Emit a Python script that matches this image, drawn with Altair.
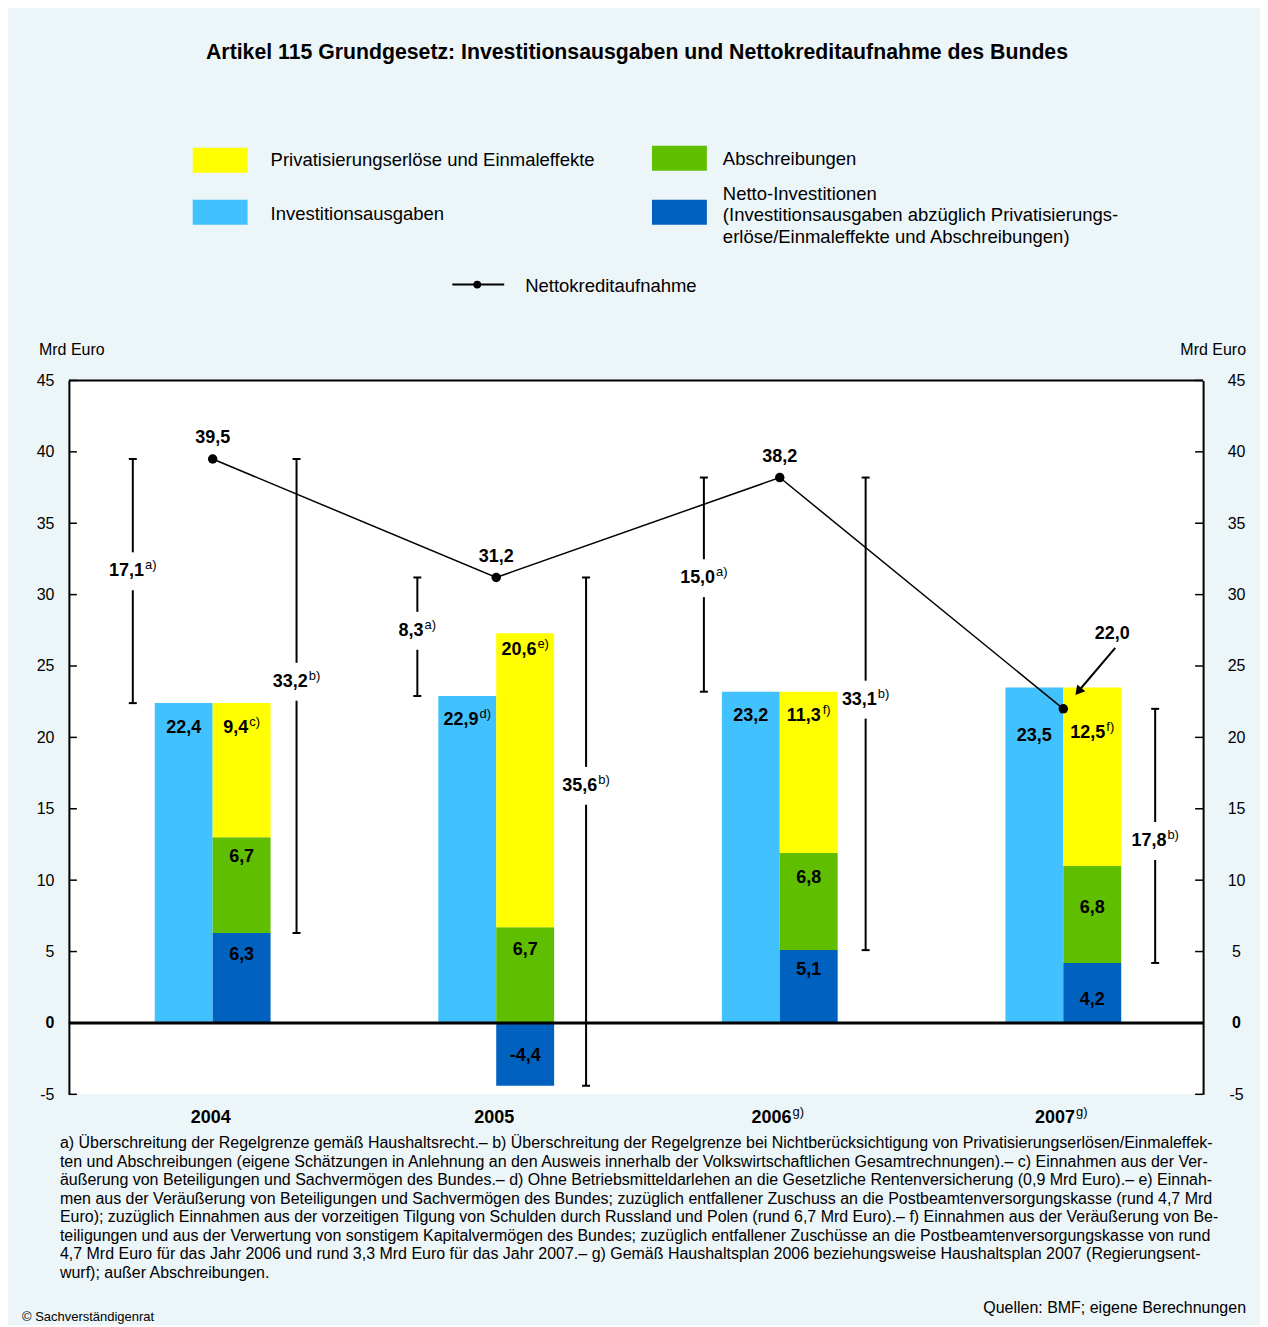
import altair as alt
import pandas as pd

# ---------------- data ----------------
years = ["2004", "2005", "2006", "2007"]
year_notes = ["", "", "g)", "g)"]
investitionsausgaben = [22.4, 22.9, 23.2, 23.5]
investitions_notes = ["", "d)", "", ""]
privatisierung = [9.4, 20.6, 11.3, 12.5]
privatisierung_notes = ["c)", "e)", "f)", "f)"]
abschreibungen = [6.7, 6.7, 6.8, 6.8]
netto_investitionen = [6.3, -4.4, 5.1, 4.2]
nettokredit = [39.5, 31.2, 38.2, 22.0]
ueberschreitung_a = [17.1, 8.3, 15.0, None]
ueberschreitung_b = [33.2, 35.6, 33.1, 17.8]
y_ticks = [-5, 0, 5, 10, 15, 20, 25, 30, 35, 40, 45]

series_names = ["Privatisierungserlöse und Einmaleffekte", "Abschreibungen",
                "Investitionsausgaben", "Netto-Investitionen"]
series_colors = ["#FFFF00", "#5FBE00", "#42C1FF", "#0061BF"]

title_text = "Artikel 115 Grundgesetz: Investitionsausgaben und Nettokreditaufnahme des Bundes"
footnote_lines = [
    "a) Überschreitung der Regelgrenze gemäß Haushaltsrecht.– b) Überschreitung der Regelgrenze bei Nichtberücksichtigung von Privatisierungserlösen/Einmaleffek-",
    "ten und Abschreibungen (eigene Schätzungen in Anlehnung an den Ausweis innerhalb der Volkswirtschaftlichen Gesamtrechnungen).– c) Einnahmen aus der Ver-",
    "äußerung von Beteiligungen und Sachvermögen des Bundes.– d) Ohne Betriebsmitteldarlehen an die Gesetzliche Rentenversicherung (0,9 Mrd Euro).– e) Einnah-",
    "men aus der Veräußerung von Beteiligungen und Sachvermögen des Bundes; zuzüglich entfallener Zuschuss an die Postbeamtenversorgungskasse (rund 4,7 Mrd",
    "Euro); zuzüglich Einnahmen aus der vorzeitigen Tilgung von Schulden durch Russland und Polen (rund 6,7 Mrd Euro).– f) Einnahmen aus der Veräußerung von Be-",
    "teiligungen und aus der Verwertung von sonstigem Kapitalvermögen des Bundes; zuzüglich entfallener Zuschüsse an die Postbeamtenversorgungskasse von rund",
    "4,7 Mrd Euro für das Jahr 2006 und rund 3,3 Mrd Euro für das Jahr 2007.– g) Gemäß Haushaltsplan 2006 beziehungsweise Haushaltsplan 2007 (Regierungsent-",
    "wurf); außer Abschreibungen.",
]

# ---------------- layout ----------------
W, H = 1136, 715
Y0, Y1 = -5, 45
PX = H / (Y1 - Y0)          # pixels per Mrd Euro
STEP = W / len(years)       # pixels per year band
BAR_W = 58 / STEP
SHIFT = 2 / STEP            # bars/line sit slightly right of band centre
FONT = "Liberation Sans"
LBL = 18
SUP = 13
BG = "#ECF5F8"

# label offsets (pixels below segment tops)
dy_invest = [25, 24, 24, 49]
dy_privat = [25, 17, 24, 46]
dy_abschr = [20, 23, 25, 42]
dy_netto = [22, 33, 20, 37]
off_a = [-78, -77, -74, None]
off_b = [86, 92, 88, 94]
frac_a = [0.54, 0.55, 0.53, None]
frac_b = [0.53, 0.59, 0.53, 0.48]

BOLD_W = {",": 0.278, "-": 0.333}
SUP_W = {"a": 0.556, "b": 0.556, "c": 0.5, "d": 0.556, "e": 0.556, "f": 0.278, "g": 0.556, ")": 0.333}


def fmt(v):
    return f"{v:.1f}".replace(".", ",")


def tw(s, size, table):
    return sum(table.get(c, 0.556) for c in s) * size


main_rows, sup_rows = [], []


def add_label(x, y, main, sup=""):
    wm = tw(main, LBL, BOLD_W)
    ws = tw(sup, SUP, SUP_W) + (1 if sup else 0)
    start = x - (wm + ws) / 2 / STEP
    main_rows.append({"x": start, "y": y, "t": main})
    if sup:
        sup_rows.append({"x": start + (wm + 1) / STEP, "y": y, "t": sup})


# bars
bar_rows = []
for i in range(len(years)):
    c = i + 0.5 + SHIFT
    inv, pr, ab, ne = investitionsausgaben[i], privatisierung[i], abschreibungen[i], netto_investitionen[i]
    base = max(ne, 0)
    bar_rows.append({"x": c - BAR_W, "x2": c, "y": 0, "y2": inv, "s": series_names[2]})
    bar_rows.append({"x": c, "x2": c + BAR_W, "y": 0, "y2": ne, "s": series_names[3]})
    bar_rows.append({"x": c, "x2": c + BAR_W, "y": base, "y2": base + ab, "s": series_names[1]})
    bar_rows.append({"x": c, "x2": c + BAR_W, "y": base + ab, "y2": base + ab + pr, "s": series_names[0]})
    add_label(c - BAR_W / 2, inv - dy_invest[i] / PX, fmt(inv), investitions_notes[i])
    add_label(c + BAR_W / 2, base + ab + pr - dy_privat[i] / PX, fmt(pr), privatisierung_notes[i])
    add_label(c + BAR_W / 2, base + ab - dy_abschr[i] / PX, fmt(ab))
    add_label(c + BAR_W / 2, base - dy_netto[i] / PX, fmt(ne))
    add_label(i + 0.5, Y0 - 24 / PX, years[i], year_notes[i])
bar_df = pd.DataFrame(bar_rows)

# range annotations
seg_rows, cap_rows = [], []


def add_range(xc, lo, hi, frac, value, note):
    ly = lo + frac * (hi - lo)
    g = 19 / PX
    seg_rows.append({"x": xc, "x2": xc, "y": lo, "y2": ly - g})
    seg_rows.append({"x": xc, "x2": xc, "y": ly + g, "y2": hi})
    for v in (lo, hi):
        cap_rows.append({"x": xc - 4 / STEP, "x2": xc + 4 / STEP, "y": v, "y2": v})
    add_label(xc, ly, fmt(value), note)


for i in range(len(years)):
    c = i + 0.5
    if ueberschreitung_a[i] is not None:
        add_range(c + off_a[i] / STEP, investitionsausgaben[i], nettokredit[i], frac_a[i], ueberschreitung_a[i], "a)")
    add_range(c + off_b[i] / STEP, netto_investitionen[i], nettokredit[i], frac_b[i], ueberschreitung_b[i], "b)")

# line
line_df = pd.DataFrame({"x": [i + 0.5 + SHIFT for i in range(len(years))], "y": nettokredit})
for i in range(3):
    add_label(i + 0.5 + SHIFT, nettokredit[i] + 21 / PX, fmt(nettokredit[i]))
# arrow for last value
lx, ly_ = 3.5 + SHIFT, nettokredit[3]
add_label(lx + 49 / STEP, ly_ + 75 / PX, fmt(nettokredit[3]))
arrow_df = pd.DataFrame([{"x": lx + 52 / STEP, "y": ly_ + 61 / PX, "x2": lx + 16 / STEP, "y2": ly_ + 18.6 / PX}])
head_df = pd.DataFrame([{"x": lx + 16 / STEP, "y": ly_ + 18.6 / PX}])

seg_df = pd.DataFrame(seg_rows + cap_rows)
main_df = pd.DataFrame(main_rows)
sup_df = pd.DataFrame(sup_rows)
tick_df = pd.DataFrame({"v": y_ticks})

xs = alt.Scale(domain=[0, len(years)], nice=False, zero=False)
ys = alt.Scale(domain=[Y0, Y1], nice=False, zero=False)
XN = lambda f: alt.X(f, type="quantitative", scale=xs, axis=None)
YN = lambda f: alt.Y(f, type="quantitative", scale=ys, axis=None)

bold0 = {"condition": {"test": "datum.value == 0", "value": "bold"}, "value": "normal"}
lab_expr = "datum.value < 0 ? '-' + abs(datum.value) : datum.label"
left_axis = alt.Axis(orient="left", values=y_ticks, tickSize=0, labelPadding=15, domainColor="black",
                     domainWidth=2, grid=False, title=None, labelFontSize=16, labelColor="black",
                     labelFont=FONT, labelFontWeight=bold0, labelExpr=lab_expr)
right_axis = alt.Axis(orient="right", values=y_ticks, tickSize=0, labelPadding=33, labelAlign="center",
                      domainColor="black", domainWidth=2, grid=False, title=None, labelFontSize=16,
                      labelColor="black", labelFont=FONT, labelFontWeight=bold0, labelExpr=lab_expr)
bottom_axis = alt.Axis(orient="bottom", values=[0, 1, 2, 3, 4], tickSize=10, tickWidth=2, tickColor="black",
                       domainColor="black", domainWidth=2, labels=False, grid=False, title=None)

bars = alt.Chart(bar_df).mark_rect().encode(
    x=alt.X("x:Q", scale=xs, axis=bottom_axis), x2="x2:Q",
    y=alt.Y("y:Q", scale=ys, axis=left_axis), y2="y2:Q",
    color=alt.Color("s:N", scale=alt.Scale(domain=series_names, range=series_colors), legend=None),
)

rticks = alt.Chart(tick_df).mark_rule(color="black", strokeWidth=1.5).encode(
    y=alt.Y("v:Q", scale=ys, axis=right_axis), x=alt.value(W - 8), x2=alt.value(W))
lticks = alt.Chart(tick_df).mark_rule(color="black", strokeWidth=1.5).encode(
    y=YN("v"), x=alt.value(0), x2=alt.value(8))

border_df = pd.DataFrame({"v": [Y1]})
zero_df = pd.DataFrame({"v": [0]})
top_border = alt.Chart(border_df).mark_rule(color="black", strokeWidth=2).encode(
    y=YN("v"), x=alt.value(0), x2=alt.value(W))
zero_line = alt.Chart(zero_df).mark_rule(color="black", strokeWidth=3).encode(
    y=YN("v"), x=alt.value(0), x2=alt.value(W))

segs = alt.Chart(seg_df).mark_rule(color="black", strokeWidth=2).encode(
    x=XN("x"), x2="x2:Q", y=YN("y"), y2="y2:Q")

line = alt.Chart(line_df).mark_line(color="black", strokeWidth=1.5).encode(x=XN("x"), y=YN("y"))
pts = alt.Chart(line_df).mark_point(filled=True, color="black", size=90, opacity=1).encode(x=XN("x"), y=YN("y"))

arrow = alt.Chart(arrow_df).mark_rule(color="black", strokeWidth=2).encode(
    x=XN("x"), x2="x2:Q", y=YN("y"), y2="y2:Q")
head = alt.Chart(head_df).mark_point(shape="triangle", filled=True, color="black", size=110, angle=220,
                                     opacity=1).encode(x=XN("x"), y=YN("y"))

main_txt = alt.Chart(main_df).mark_text(align="left", baseline="middle", font=FONT, fontSize=LBL,
                                        fontWeight="bold", color="black").encode(
    x=XN("x"), y=YN("y"), text="t:N")
sup_txt = alt.Chart(sup_df).mark_text(align="left", baseline="middle", font=FONT, fontSize=SUP,
                                      color="black", dy=-6).encode(
    x=XN("x"), y=YN("y"), text="t:N")

one = pd.DataFrame({"a": [0]})


def txt(x, y, s, size=16, align="left", baseline="middle", weight="normal", **kw):
    return alt.Chart(one).mark_text(align=align, baseline=baseline, font=FONT, fontSize=size,
                                    fontWeight=weight, color="black", **kw).encode(
        x=alt.value(x), y=alt.value(y), text=alt.value(s))


def swatch(x, y, color):
    return alt.Chart(one).mark_rect(color=color).encode(
        x=alt.value(x), x2=alt.value(x + 55), y=alt.value(y), y2=alt.value(y + 25))


OX, OY = 69, 380  # plot origin in page pixels
annot = [
    txt(638 - OX, 52 - OY, title_text, size=21.3, align="center", weight="bold"),
    swatch(193 - OX, 147 - OY, series_colors[0]),
    swatch(653 - OX, 145 - OY, series_colors[1]),
    swatch(193 - OX, 199 - OY, series_colors[2]),
    swatch(653 - OX, 199 - OY, series_colors[3]),
    txt(271 - OX, 159 - OY, series_names[0], size=18.5),
    txt(724 - OX, 158 - OY, series_names[1], size=18.5),
    txt(271 - OX, 213 - OY, series_names[2], size=18.5),
    txt(724 - OX, 184 - OY,
        "Netto-Investitionen\n(Investitionsausgaben abzüglich Privatisierungs-\nerlöse/Einmaleffekte und Abschreibungen)",
        size=18.5, baseline="top", lineBreak="\n", lineHeight=21.5),
    alt.Chart(one).mark_rule(color="black", strokeWidth=2).encode(
        x=alt.value(453 - OX), x2=alt.value(505 - OX), y=alt.value(284 - OY)),
    alt.Chart(one).mark_point(filled=True, color="black", size=60, opacity=1).encode(
        x=alt.value(478 - OX), y=alt.value(284 - OY)),
    txt(526 - OX, 285 - OY, "Nettokreditaufnahme", size=18.5),
    txt(39 - OX, 350 - OY, "Mrd Euro", size=16),
    txt(1248 - OX, 350 - OY, "Mrd Euro", size=16, align="right"),
    txt(60 - OX, 1136 - OY, "\n".join(footnote_lines), size=16, baseline="top", lineBreak="\n",
        lineHeight=18.57),
    txt(22 - OX, 1318 - OY, "© Sachverständigenrat", size=13),
    txt(1248 - OX, 1309 - OY, "Quellen: BMF; eigene Berechnungen", size=16, align="right"),
]

chart = alt.layer(
    bars, rticks, lticks, segs, top_border, zero_line, line, pts, arrow, head, main_txt, sup_txt, *annot
).resolve_axis(y="independent").properties(
    width=W, height=H,
    autosize=alt.AutoSizeParams(type="none"),
    padding={"left": OX - 8, "top": OY - 8, "right": 1262 - OX - W, "bottom": 1325 - OY - H},
    background=BG,
).configure_view(fill="white", strokeWidth=0)

chart.save("out.html", embed_options={"renderer": "svg", "actions": False})
